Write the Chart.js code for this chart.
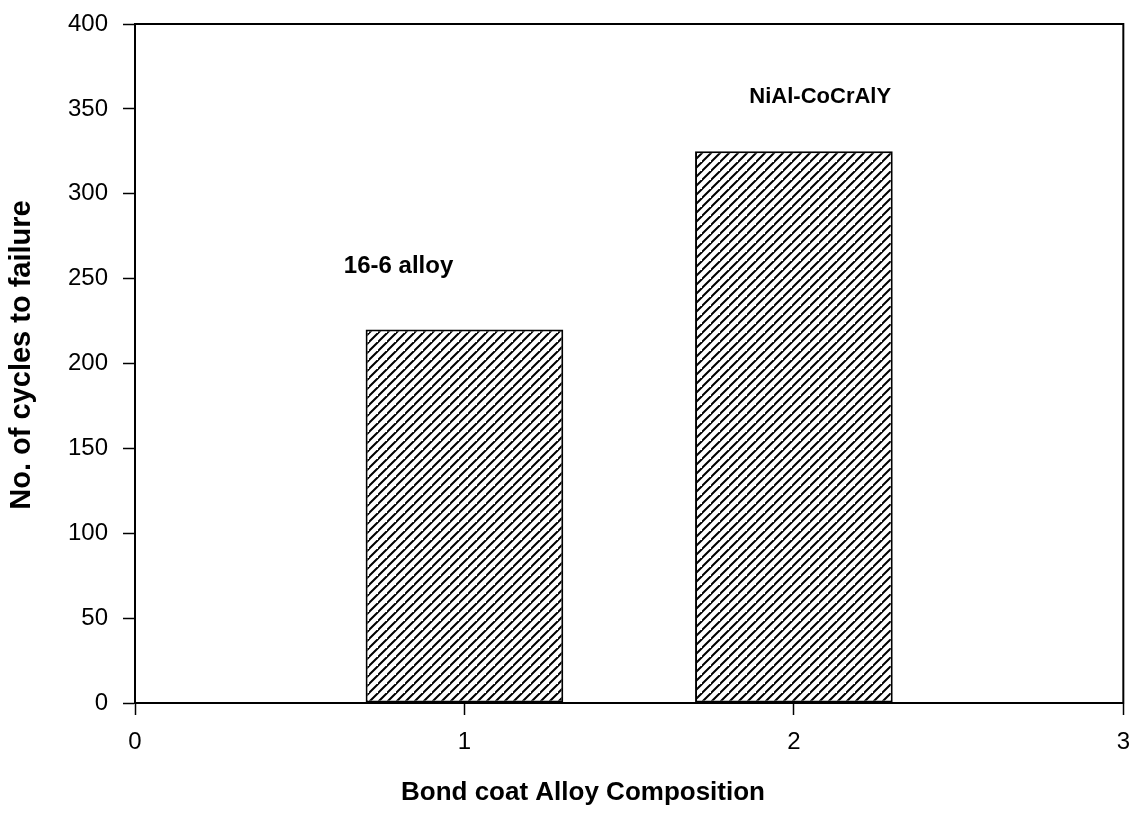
<!DOCTYPE html>
<html>
<head>
<meta charset="utf-8">
<script src="https://cdn.jsdelivr.net/npm/chart.js@4"></script>
<style>
  html, body { margin: 0; padding: 0; background: #fff; }
  #wrap { width: 1143px; height: 826px; position: relative; }
</style>
</head>
<body>
<div id="wrap"><canvas id="c" width="1143" height="826"></canvas></div>
<script>
// ---- data ----
const barPositions = [1, 2];
const barValues = [220, 325];
const barNames = ['16-6 alloy', 'NiAl-CoCrAlY'];
const nameX = [0.8, 2.08];
const nameY = [257, 357];
const xTicks = [0, 1, 2, 3];
const yTicks = [0, 50, 100, 150, 200, 250, 300, 350, 400];
const xTitle = 'Bond coat Alloy Composition';
const yTitle = 'No. of cycles to failure';

// ---- hatch pattern ----
function makeHatch() {
  const s = 9;
  const c = document.createElement('canvas');
  c.width = s; c.height = s;
  const g = c.getContext('2d');
  g.fillStyle = '#fff';
  g.fillRect(0, 0, s, s);
  g.strokeStyle = '#000';
  g.lineWidth = 2;
  g.beginPath();
  g.moveTo(-1, s + 1); g.lineTo(s + 1, -1);
  g.moveTo(-1 - s, s + 1); g.lineTo(1, -1);
  g.moveTo(s - 1, 2 * s + 1); g.lineTo(2 * s + 1, s - 1);
  g.stroke();
  return g.createPattern(c, 'repeat');
}

const FAMILY = '"Liberation Sans", Arial, sans-serif';

const frame = {
  id: 'frame',
  afterDatasetsDraw(chart) {
    const a = chart.chartArea, ctx = chart.ctx;
    const xs = chart.scales.x, ys = chart.scales.y;
    ctx.save();
    ctx.strokeStyle = '#000';
    ctx.lineWidth = 2;
    ctx.strokeRect(a.left, a.top, a.right - a.left, a.bottom - a.top);
    ctx.fillStyle = '#000';
    ctx.textAlign = 'center';
    ctx.textBaseline = 'middle';
    barNames.forEach((t, i) => {
      ctx.font = (i === 0 ? 'bold 24px ' : 'bold 22px ') + FAMILY;
      ctx.fillText(t, xs.getPixelForValue(nameX[i]), ys.getPixelForValue(nameY[i]));
    });
    // axis titles
    ctx.font = 'bold 26px ' + FAMILY;
    ctx.fillText(xTitle, 583, 793);
    ctx.save();
    ctx.translate(22, 355);
    ctx.rotate(-Math.PI / 2);
    ctx.font = 'bold 29px ' + FAMILY;
    ctx.fillText(yTitle, 0, 0);
    ctx.restore();
    ctx.restore();
  }
};

const tickFont = { family: FAMILY, size: 24 };

new Chart(document.getElementById('c'), {
  type: 'bar',
  data: {
    datasets: [{
      data: barPositions.map((x, i) => ({ x: x, y: barValues[i] })),
      backgroundColor: makeHatch(),
      borderColor: '#000',
      borderWidth: 2,
      borderSkipped: false,
      barPercentage: 0.6,
      categoryPercentage: 1.0
    }]
  },
  options: {
    responsive: false,
    animation: false,
    devicePixelRatio: 1,
    layout: { padding: { left: 0, right: 19, top: 24, bottom: 0 } },
    plugins: { legend: { display: false }, tooltip: { enabled: false } },
    scales: {
      x: {
        type: 'linear',
        min: 0, max: 3,
        offset: false,
        afterBuildTicks(s) { s.ticks = xTicks.map(v => ({ value: v })); },
        afterFit(s) { s.height = 123; },
        ticks: { color: '#000', font: tickFont, padding: 13, maxRotation: 0 },
        grid: { display: true, drawOnChartArea: false, offset: false, tickLength: 12, color: '#000', tickWidth: 1.5 },
        border: { display: true, color: '#000', width: 2 },
        title: { display: false }
      },
      y: {
        min: 0, max: 400,
        afterBuildTicks(s) { s.ticks = yTicks.map(v => ({ value: v })); },
        afterFit(s) { s.width = 135; s.paddingTop = 0; s.paddingBottom = 0; },
        ticks: { color: '#000', font: tickFont, padding: 15 },
        grid: { display: true, drawOnChartArea: false, tickLength: 12, color: '#000', tickWidth: 1.5 },
        border: { display: true, color: '#000', width: 2 },
        title: { display: false }
      }
    }
  },
  plugins: [frame]
});
</script>
</body>
</html>
